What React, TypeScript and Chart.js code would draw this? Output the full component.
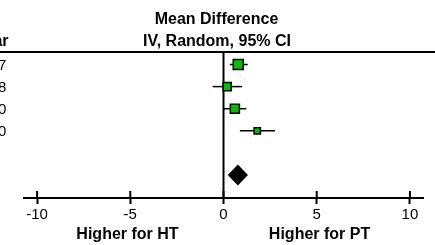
import React, { useEffect, useRef } from "react";
import { Chart, registerables } from "chart.js";

Chart.register(...registerables);

// ---- data ----
const years = ["2007", "2008", "2010", "2010"];
const meanDiff = [0.79, 0.2, 0.61, 1.81];
const ciLow = [0.34, -0.58, 0.0, 0.88];
const ciHigh = [1.3, 1.0, 1.22, 2.76];
const weights = [34.5, 23.1, 28.5, 14.0];
const pooledEst = [0.77];
const pooledLow = [0.23];
const pooledHigh = [1.31];
const tickValues = [-10, -5, 0, 5, 10];
const tickLabels = ["-10", "-5", "0", "5", "10"];
const headerLines = ["Mean Difference", "IV, Random, 95% CI"];
const yearHeader = "Year";
const favourLabels = ["Higher for HT", "Higher for PT"];

const studyRows = years.map((_, i) => i + 1);
const pooledRow = 6;
const FONT = "'Liberation Sans', Arial, sans-serif";
const GREEN = "#00c000";

const forestPlugin = {
  id: "forest",
  beforeDatasetsDraw(chart: any) {
    const { ctx, chartArea, scales } = chart;
    const xs = scales.x;
    const ys = scales.y;
    ctx.save();
    // header line
    ctx.strokeStyle = "#000";
    ctx.lineWidth = 2;
    ctx.beginPath();
    ctx.moveTo(0, chartArea.top);
    ctx.lineTo(chart.width, chartArea.top);
    ctx.stroke();
    // zero line
    const x0 = xs.getPixelForValue(0);
    ctx.beginPath();
    ctx.moveTo(x0, chartArea.top);
    ctx.lineTo(x0, chartArea.bottom);
    ctx.stroke();
    // upper halves of tick marks
    tickValues.forEach((v) => {
      const px = xs.getPixelForValue(v);
      ctx.beginPath();
      ctx.moveTo(px, chartArea.bottom - 7);
      ctx.lineTo(px, chartArea.bottom);
      ctx.stroke();
    });
    // CI whiskers
    ctx.lineWidth = 1.5;
    studyRows.forEach((r, i) => {
      const py = ys.getPixelForValue(r);
      ctx.beginPath();
      ctx.moveTo(xs.getPixelForValue(ciLow[i]), py);
      ctx.lineTo(xs.getPixelForValue(ciHigh[i]), py);
      ctx.stroke();
    });
    // pooled diamond
    const dy = ys.getPixelForValue(pooledRow);
    ctx.fillStyle = "#000";
    ctx.beginPath();
    ctx.moveTo(xs.getPixelForValue(pooledLow[0]), dy);
    ctx.lineTo(xs.getPixelForValue(pooledEst[0]), dy - 10.5);
    ctx.lineTo(xs.getPixelForValue(pooledHigh[0]), dy);
    ctx.lineTo(xs.getPixelForValue(pooledEst[0]), dy + 10.5);
    ctx.closePath();
    ctx.fill();

    // texts
    ctx.fillStyle = "#000";
    ctx.textBaseline = "alphabetic";
    ctx.font = `bold 16px ${FONT}`;
    ctx.textAlign = "center";
    ctx.fillText(headerLines[0], 216.5, 24);
    ctx.fillText(headerLines[1], 217, 46);
    ctx.textAlign = "right";
    ctx.fillText(yearHeader, 8.5, 46);
    ctx.font = `15px ${FONT}`;
    studyRows.forEach((r, i) => {
      const py = ys.getPixelForValue(r);
      ctx.fillText(years[i], 6.3, py + 5.5);
    });
    ctx.font = `bold 16px ${FONT}`;
    ctx.textAlign = "center";
    ctx.fillText(favourLabels[0], xs.getPixelForValue(-5.15), 238.5);
    ctx.fillText(favourLabels[1], xs.getPixelForValue(5.15), 238.5);
    ctx.restore();
  },
};

export default function App() {
  const ref = useRef<HTMLCanvasElement | null>(null);
  useEffect(() => {
    document.body.style.margin = "0";
    const canvas = ref.current;
    if (!canvas) return;
    const chart = new Chart(canvas, {
      type: "scatter",
      data: {
        datasets: [
          {
            data: meanDiff.map((v, i) => ({ x: v, y: studyRows[i] })),
            pointStyle: "rect",
            pointRadius: weights.map((w) => Math.sqrt(w) * 1.2),
            pointHoverRadius: weights.map((w) => Math.sqrt(w) * 1.2),
            backgroundColor: GREEN,
            borderColor: "#000",
            borderWidth: 1.5,
          },
        ],
      },
      options: {
        animation: false,
        responsive: false,
        devicePixelRatio: 1,
        events: [],
        layout: { padding: { left: 24, right: 12, top: 52, bottom: 0 } },
        plugins: { legend: { display: false }, tooltip: { enabled: false } },
        scales: {
          x: {
            type: "linear",
            min: -10.7,
            max: 10.7,
            afterBuildTicks: (s: any) => {
              s.ticks = tickValues.map((v) => ({ value: v }));
            },
            afterFit: (s: any) => {
              s.height = 47;
            },
            border: { display: true, color: "#000", width: 2 },
            grid: {
              display: true,
              drawOnChartArea: false,
              drawTicks: true,
              tickLength: 6,
              tickWidth: 2,
              tickColor: "#000",
            },
            ticks: {
              color: "#000",
              padding: 2,
              maxRotation: 0,
              autoSkip: false,
              font: { family: FONT, size: 15 },
              callback: (v: any) => {
                const idx = tickValues.indexOf(Number(v));
                return idx >= 0 ? tickLabels[idx] : "";
              },
            },
          },
          y: {
            type: "linear",
            display: false,
            reverse: true,
            min: 0.434,
            max: 7.04,
          },
        },
      },
      plugins: [forestPlugin],
    } as any);
    return () => chart.destroy();
  }, []);
  return (
    <div style={{ position: "fixed", left: 0, top: 0, width: 435, height: 245 }}>
      <canvas ref={ref} width={435} height={245} style={{ width: 435, height: 245, display: "block" }} />
    </div>
  );
}
